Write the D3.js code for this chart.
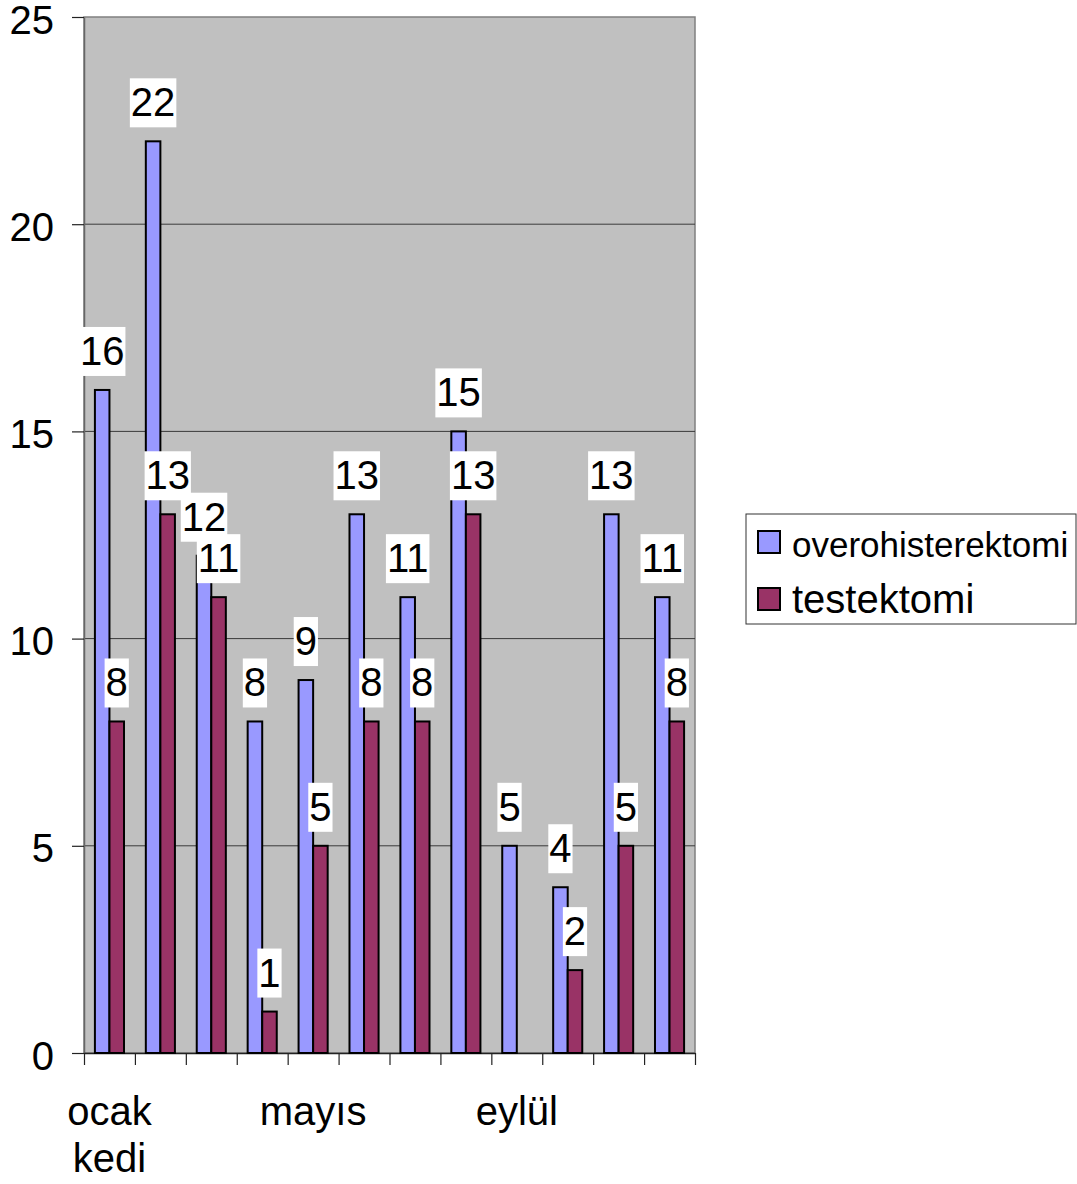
<!DOCTYPE html>
<html>
<head>
<meta charset="utf-8">
<script src="https://cdn.jsdelivr.net/npm/d3@7"></script>
<style>
  html, body { margin: 0; padding: 0; background: #ffffff; }
</style>
</head>
<body>
<div id="chart"></div>
<script>
(function () {
  "use strict";

  // Data
  const categories = ["ocak", "şubat", "mart", "nisan", "mayıs", "haziran",
                      "temmuz", "ağustos", "eylül", "ekim", "kasım", "aralık"];
  const xTickLabels = ["ocak\nkedi", "", "", "", "mayıs", "", "", "", "eylül", "", "", ""];
  const seriesNames = ["overohisterektomi", "testektomi"];
  const overohisterektomi = [16, 22, 12, 8, 9, 13, 11, 15, 5, 4, 13, 11];
  const testektomi = [8, 13, 11, 1, 5, 8, 8, 13, null, 2, 5, 8];
  const yTicks = [0, 5, 10, 15, 20, 25];

  const W = 1077, H = 1184;
  const FONT = "'Liberation Sans', Arial, sans-serif";
  const COLORS = { overohisterektomi: "#9999FF", testektomi: "#993366" };

  // plot area
  const X0 = 84, X1 = 695, Y0 = 1053, Y1 = 17;

  const svg = d3.select("#chart").append("svg")
    .attr("width", W).attr("height", H)
    .style("display", "block");

  svg.append("rect").attr("width", W).attr("height", H).attr("fill", "#ffffff");

  const x = d3.scaleBand().domain(categories).range([X0, X1]);
  // Excel style: gap width 150% -> group = 2 bars, gap = 1.5 bars
  const barW = x.bandwidth() / 3.5;
  const xSub = d3.scaleBand().domain(seriesNames)
    .range([barW * 0.75, barW * 2.75]);
  const y = d3.scaleLinear().domain([0, 25]).range([Y0, Y1]);

  // grey plot background
  svg.append("rect")
    .attr("x", X0).attr("y", Y1).attr("width", X1 - X0).attr("height", Y0 - Y1)
    .attr("fill", "#C0C0C0").attr("stroke", "#808080").attr("stroke-width", 1.5);

  // gridlines
  svg.append("g").selectAll("line")
    .data(yTicks.filter(t => t > 0 && t < 25))
    .enter().append("line")
    .attr("x1", X0).attr("x2", X1)
    .attr("y1", d => y(d)).attr("y2", d => y(d))
    .attr("stroke", "#3a3a3a").attr("stroke-width", 1);

  // y axis
  const yAxis = svg.append("g")
    .attr("transform", `translate(${X0},0)`)
    .call(d3.axisLeft(y).tickValues(yTicks).tickSize(12).tickPadding(18).tickSizeOuter(0));
  yAxis.select(".domain").attr("stroke", "#666").attr("stroke-width", 1.5);
  yAxis.selectAll(".tick line").attr("stroke", "#222").attr("stroke-width", 1.2);
  yAxis.selectAll(".tick text")
    .attr("font-family", FONT).attr("font-size", "40px").attr("fill", "#000")
    .attr("dy", "0.4em");

  // x axis: ticks at category boundaries
  const xIdx = d3.scaleLinear().domain([0, categories.length]).range([X0, X1]);
  const xAxis = svg.append("g")
    .attr("transform", `translate(0,${Y0})`)
    .call(d3.axisBottom(xIdx).tickValues(d3.range(categories.length + 1))
      .tickSize(12).tickSizeOuter(0).tickFormat(""));
  xAxis.select(".domain").attr("stroke", "#222").attr("stroke-width", 1.5);
  xAxis.selectAll(".tick line").attr("stroke", "#222").attr("stroke-width", 1.2);

  // category labels
  const xl = svg.append("g");
  categories.forEach((c, i) => {
    const lbl = xTickLabels[i];
    if (!lbl) return;
    const cx = x(c) + x.bandwidth() / 2;
    const t = xl.append("text")
      .attr("x", cx).attr("y", 1125)
      .attr("text-anchor", "middle")
      .attr("font-family", FONT).attr("font-size", "40px").attr("fill", "#000");
    lbl.split("\n").forEach((part, j) => {
      t.append("tspan").attr("x", cx).attr("dy", j === 0 ? 0 : 47).text(part);
    });
  });

  const seriesData = { overohisterektomi, testektomi };

  // bars
  seriesNames.forEach(s => {
    svg.append("g").selectAll("rect")
      .data(categories.map((c, i) => ({ c, v: seriesData[s][i] })).filter(d => d.v != null))
      .enter().append("rect")
      .attr("x", d => x(d.c) + xSub(s))
      .attr("y", d => y(d.v))
      .attr("width", xSub.bandwidth())
      .attr("height", d => y(0) - y(d.v))
      .attr("fill", COLORS[s])
      .attr("stroke", "#000").attr("stroke-width", 2);
  });

  // data labels (white boxes), first series then second
  seriesNames.forEach(s => {
    const g = svg.append("g");
    categories.forEach((c, i) => {
      const v = seriesData[s][i];
      if (v == null) return;
      const cx = x(c) + xSub(s) + xSub.bandwidth() / 2;
      const boxBottom = y(v) - 14;
      const lg = g.append("g");
      const box = lg.append("rect").attr("fill", "#ffffff");
      const t = lg.append("text")
        .attr("x", cx).attr("y", boxBottom - 11)
        .attr("text-anchor", "middle")
        .attr("font-family", FONT).attr("font-size", "40px").attr("fill", "#000")
        .text(v);
      const tw = t.node().getComputedTextLength();
      box.attr("x", cx - tw / 2 - 1).attr("y", boxBottom - 49)
        .attr("width", tw + 2).attr("height", 49);
    });
  });

  // legend
  const lg = svg.append("g");
  lg.append("rect").attr("x", 746).attr("y", 514).attr("width", 330).attr("height", 110)
    .attr("fill", "#ffffff").attr("stroke", "#333").attr("stroke-width", 1);
  const legendRows = [
    { name: seriesNames[0], sy: 531, base: 557, size: 35 },
    { name: seriesNames[1], sy: 588, base: 613, size: 40 }
  ];
  legendRows.forEach(r => {
    lg.append("rect").attr("x", 758).attr("y", r.sy).attr("width", 22).attr("height", 22)
      .attr("fill", COLORS[r.name]).attr("stroke", "#000").attr("stroke-width", 2);
    lg.append("text").attr("x", 792).attr("y", r.base)
      .attr("font-family", FONT).attr("font-size", r.size + "px").attr("fill", "#000")
      .text(r.name);
  });
})();
</script>
</body>
</html>
